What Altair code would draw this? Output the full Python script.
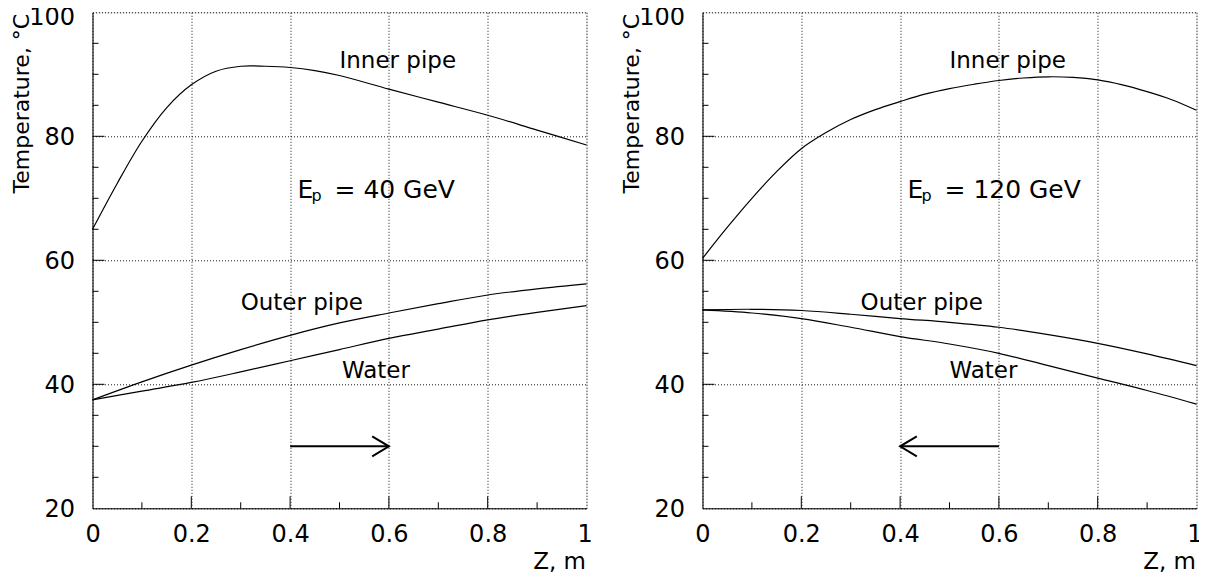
import altair as alt
import pandas as pd

FONT = "DejaVu Sans"
W, H = 494, 496

# ---------------- data ----------------
# Left panel: E_p = 40 GeV
L_inner_z = [0, 0.05, 0.1, 0.15, 0.2, 0.25, 0.3, 0.35, 0.4, 0.45, 0.5, 0.6, 0.7, 0.8, 0.9, 1.0]
L_inner_t = [65.0, 72.4, 79.2, 84.6, 88.3, 90.5, 91.3, 91.3, 91.1, 90.6, 89.8, 87.6, 85.5, 83.4, 81.0, 78.6]
L_outer_z = [0, 0.1, 0.2, 0.3, 0.4, 0.5, 0.6, 0.7, 0.8, 0.9, 1.0]
L_outer_t = [37.5, 40.4, 43.1, 45.6, 47.9, 49.9, 51.5, 53.0, 54.4, 55.4, 56.2]
L_water_z = [0, 0.1, 0.2, 0.3, 0.4, 0.5, 0.6, 0.7, 0.8, 0.9, 1.0]
L_water_t = [37.5, 38.9, 40.3, 42.0, 43.8, 45.6, 47.4, 48.9, 50.4, 51.6, 52.7]

# Right panel: E_p = 120 GeV
R_inner_z = [0, 0.05, 0.1, 0.15, 0.2, 0.25, 0.3, 0.35, 0.4, 0.45, 0.5, 0.55, 0.6, 0.65, 0.7, 0.75, 0.8, 0.85, 0.9, 0.95, 1.0]
R_inner_t = [60.3, 65.3, 70.0, 74.3, 78.0, 80.6, 82.7, 84.3, 85.6, 86.8, 87.7, 88.4, 89.0, 89.4, 89.6, 89.5, 89.1, 88.3, 87.2, 85.9, 84.2]
R_outer_z = [0, 0.1, 0.2, 0.3, 0.4, 0.5, 0.6, 0.7, 0.8, 0.9, 1.0]
R_outer_t = [52.0, 52.1, 51.9, 51.3, 50.6, 50.0, 49.2, 48.0, 46.6, 44.9, 43.0]
R_water_z = [0, 0.1, 0.2, 0.3, 0.4, 0.5, 0.6, 0.7, 0.8, 0.9, 1.0]
R_water_t = [52.0, 51.5, 50.6, 49.2, 47.7, 46.5, 45.0, 43.0, 41.0, 39.0, 36.8]

# labels on the curves
label_text = ["Inner pipe", "Outer pipe", "Water"]
L_label_z = [0.5, 0.3, 0.505]
L_label_t = [91, 52, 41]
R_label_z = [0.5, 0.32, 0.5]
R_label_t = [91, 52, 41]

energy_text = ["= 40 GeV", "= 120 GeV"]
energy_z = 0.415
energy_t = 70

# arrows (from, to) at T = 30
L_arrow = [0.4, 0.6]
R_arrow = [0.6, 0.4]
arrow_t = 30

x_ticks = [0, 0.2, 0.4, 0.6, 0.8, 1.0]
y_ticks = [20, 40, 60, 80, 100]
x_minor = [0.1, 0.3, 0.5, 0.7, 0.9]
x_major = [0.2, 0.4, 0.6, 0.8]
y_minor = [25, 30, 35, 45, 50, 55, 65, 70, 75, 85, 90, 95]
y_major = [40, 60, 80]

xscale = alt.Scale(domain=[0, 1], nice=False, zero=False)
yscale = alt.Scale(domain=[20, 100], nice=False, zero=False)

xaxis = alt.Axis(values=x_ticks, format=".1~f", grid=True, gridDash=[1, 2], gridColor="black",
                 gridOpacity=0.9, ticks=False, tickSize=0, labelPadding=33, labelBaseline="alphabetic",
                 labelFlush=False,
                 labelOffset={"condition": {"test": "datum.value == 1", "value": -2}, "value": 0},
                 domainColor="black", labelFont=FONT, labelFontSize=24,
                 labelColor="black", titleFont=FONT, titleFontSize=23, titleFontWeight="normal",
                 titleColor="black", titleX=W - 1, titleY=60, titleAlign="right",
                 titleBaseline="alphabetic", titleAnchor="end")
yaxis = alt.Axis(values=y_ticks, grid=True, gridDash=[1, 2], gridColor="black", gridOpacity=0.9,
                 ticks=False, tickSize=0, labelPadding=18, labelBaseline="middle", labelFlush=False,
                 labelOffset={"condition": {"test": "datum.value == 100", "value": 5}, "value": 1},
                 domainColor="black", labelFont=FONT, labelFontSize=24, labelColor="black",
                 titleFont=FONT, titleFontSize=22, titleFontWeight="normal", titleColor="black",
                 titleAngle=270, titleX=-64, titleY=1, titleAlign="right", titleBaseline="alphabetic")


def X(field="z"):
    return alt.X(f"{field}:Q", scale=xscale, axis=xaxis, title="Z, m")


def Y(field="t"):
    return alt.Y(f"{field}:Q", scale=yscale, axis=yaxis, title="Temperature, °C")


def panel(iz, it, oz, ot, wz, wt, lz, lt, etext, arrow, head_path):
    rows = []
    for name, zs, ts in (("Inner pipe", iz, it), ("Outer pipe", oz, ot), ("Water", wz, wt)):
        for a, b in zip(zs, ts):
            rows.append({"series": name, "z": a, "t": b})
    curves = alt.Chart(pd.DataFrame(rows)).mark_line(
        color="black", strokeWidth=1.2, interpolate="catmull-rom"
    ).encode(x=X(), y=Y(), detail="series:N")

    xt_minor = alt.Chart(pd.DataFrame({"z": x_minor})).mark_rule(color="black", strokeWidth=1).encode(
        x=X(), y=alt.value(H), y2=alt.value(H - 6))
    xt_major = alt.Chart(pd.DataFrame({"z": x_major})).mark_rule(color="black", strokeWidth=1).encode(
        x=X(), y=alt.value(H), y2=alt.value(H - 12))
    yt_minor = alt.Chart(pd.DataFrame({"t": y_minor})).mark_rule(color="black", strokeWidth=1).encode(
        y=Y(), x=alt.value(0), x2=alt.value(6))
    yt_major = alt.Chart(pd.DataFrame({"t": y_major})).mark_rule(color="black", strokeWidth=1).encode(
        y=Y(), x=alt.value(0), x2=alt.value(12))

    labels = alt.Chart(pd.DataFrame({"z": lz, "t": lt, "txt": label_text})).mark_text(
        align="left", baseline="alphabetic", font=FONT, fontSize=23, color="black"
    ).encode(x=X(), y=Y(), text="txt:N")

    edf = pd.DataFrame({"z": [energy_z], "t": [energy_t]})
    e_main = alt.Chart(edf).mark_text(align="left", baseline="alphabetic", font=FONT,
                                      fontSize=25, color="black", text="E").encode(x=X(), y=Y())
    e_sub = alt.Chart(edf).mark_text(align="left", baseline="alphabetic", font=FONT, fontSize=16,
                                     color="black", text="p", dx=14, dy=3).encode(x=X(), y=Y())
    e_rest = alt.Chart(edf).mark_text(align="left", baseline="alphabetic", font=FONT, fontSize=25,
                                      color="black", text=etext, dx=37).encode(x=X(), y=Y())

    arr = alt.Chart(pd.DataFrame({"z": arrow, "t": [arrow_t, arrow_t]})).mark_line(
        color="black", strokeWidth=2).encode(x=X(), y=Y())
    head = alt.Chart(pd.DataFrame({"z": [arrow[1]], "t": [arrow_t]})).mark_point(
        shape=head_path, filled=False, size=1115, color="black", strokeWidth=2, opacity=1
    ).encode(x=X(), y=Y())

    return alt.layer(curves, xt_minor, xt_major, yt_minor, yt_major, labels,
                     e_main, e_sub, e_rest, arr, head).properties(width=W, height=H)


left = panel(L_inner_z, L_inner_t, L_outer_z, L_outer_t, L_water_z, L_water_t,
             L_label_z, L_label_t, energy_text[0], L_arrow, "M -1 -0.6 L 0 0 L -1 0.6")
right = panel(R_inner_z, R_inner_t, R_outer_z, R_outer_t, R_water_z, R_water_t,
              R_label_z, R_label_t, energy_text[1], R_arrow, "M 1 -0.6 L 0 0 L 1 0.6")

chart = alt.hconcat(left, right, spacing=116, bounds="flush").properties(
    autosize=alt.AutoSizeParams(type="none"),
    padding={"left": 84.5, "top": 4.3, "right": 0, "bottom": 65},
    params=[alt.VariableParameter(name="width", value=1106),
            alt.VariableParameter(name="height", value=H)],
).configure_view(stroke="black", strokeWidth=1).configure(background="white")

chart.save("out.html", embed_options={"renderer": "svg", "actions": False})
